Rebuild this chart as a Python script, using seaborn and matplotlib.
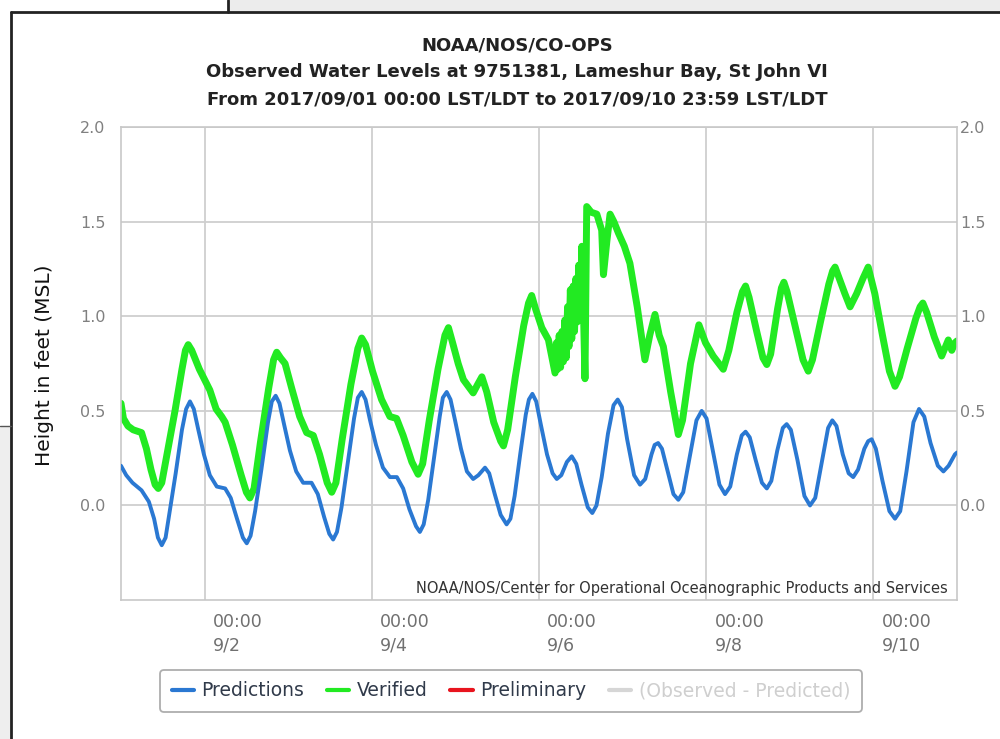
import matplotlib
matplotlib.use("Agg")
import matplotlib.pyplot as plt
import matplotlib.transforms as mtransforms
from matplotlib.lines import Line2D
from matplotlib.patches import Rectangle
import pandas as pd
import seaborn as sns

# hours since 2017/09/01 00:00, heights in feet (MSL)
pred_hours = [0, 1.5, 3.3, 5.9, 8.0, 9.5, 10.6, 11.7, 12.8, 14.0, 15.7, 17.5, 18.7, 19.8,
              20.9, 22.2, 23.8, 25.5, 27.5, 29.9, 31.5, 33.3, 35.0, 36.1, 37.2, 38.5,
              40.3, 42.2, 43.3, 44.4, 45.5, 46.8, 48.5, 50.3, 52.3, 54.7, 56.5, 58.3,
              59.8, 60.9, 62.0, 63.3, 65.0, 66.9, 68.0, 69.1, 70.2, 71.5, 73.2, 75.2,
              77.2, 79.2, 81.0, 82.8, 84.7, 85.8, 86.9, 88.2, 89.7, 91.5, 92.4, 93.5,
              94.6, 95.9, 97.6, 99.3, 101.1, 102.6, 104.5, 105.7, 107.3, 109.0, 110.7,
              111.8, 113.0, 114.6, 116.2, 117.1, 118.1, 119.2, 120.5, 122.3, 123.9,
              125.1, 126.4, 128.0, 129.4, 130.7, 132.2, 134.0, 135.3, 136.5, 138.0,
              139.8, 141.4, 142.6, 143.8, 145.3, 147.3, 149.0, 150.5, 152.3, 153.2,
              154.2, 155.3, 156.8, 158.6, 160.0, 161.4, 163.2, 165.2, 166.7, 168.1,
              169.8, 171.8, 173.4, 174.9, 176.8, 178.2, 179.3, 180.5, 182.2, 184.0,
              185.4, 186.7, 188.4, 190.0, 191.1, 192.3, 194.2, 196.2, 197.8, 199.3,
              201.1, 203.0, 204.2, 205.4, 207.2, 208.9, 210.2, 211.6, 213.4, 214.5,
              215.5, 216.7, 218.6, 220.6, 222.2, 223.7, 225.5, 227.5, 229.1, 230.6,
              232.4, 234.5, 236.1, 237.6, 239.4, 240.0]
pred_vals = [0.21, 0.16, 0.12, 0.08, 0.02, -0.07, -0.17, -0.21, -0.17, -0.03, 0.17, 0.40, 0.51, 0.55,
             0.51, 0.40, 0.27, 0.16, 0.10, 0.09, 0.04, -0.07, -0.17, -0.20, -0.16, -0.03,
             0.19, 0.44, 0.55, 0.58, 0.54, 0.43, 0.29, 0.18, 0.12, 0.12, 0.06, -0.06,
             -0.15, -0.18, -0.14, -0.01, 0.21, 0.46, 0.57, 0.60, 0.56, 0.45, 0.32, 0.20,
             0.15, 0.15, 0.09, -0.02, -0.11, -0.14, -0.10, 0.03, 0.23, 0.47, 0.57, 0.60,
             0.56, 0.45, 0.30, 0.18, 0.14, 0.16, 0.20, 0.17, 0.06, -0.05, -0.10,
             -0.07, 0.05, 0.27, 0.48, 0.56, 0.59, 0.55, 0.43, 0.27, 0.17,
             0.14, 0.16, 0.23, 0.26, 0.22, 0.11, -0.01, -0.04, 0.00, 0.15,
             0.38, 0.53, 0.56, 0.52, 0.35, 0.16, 0.11, 0.14, 0.27, 0.32,
             0.33, 0.30, 0.19, 0.06, 0.03, 0.07, 0.25, 0.45, 0.50, 0.46,
             0.30, 0.11, 0.06, 0.10, 0.27, 0.37, 0.39, 0.36, 0.24, 0.12,
             0.09, 0.13, 0.29, 0.41, 0.43, 0.40, 0.24, 0.05, 0.00, 0.04,
             0.22, 0.41, 0.45, 0.42, 0.27, 0.17, 0.15, 0.19, 0.30, 0.34,
             0.35, 0.30, 0.13, -0.03, -0.07, -0.03, 0.18, 0.44, 0.51, 0.47,
             0.33, 0.21, 0.18, 0.21, 0.27, 0.28]

ver_hours = [0, 0.7, 2.0, 3.5, 5.9, 7.3, 8.6, 9.8, 10.7, 11.7, 13.3, 15.5, 17.5, 18.5, 19.3,
             20.3, 22.5, 25.5, 27.3, 28.9, 29.9, 32.0, 34.5, 36.0, 37.0, 38.2, 40.0, 42.4,
             43.8, 44.7, 45.8, 47.1, 49.0, 51.3, 53.3, 55.2, 57.0, 59.2, 60.5, 61.7, 63.5,
             66.0, 68.0, 69.1, 70.2, 72.2, 74.8, 77.2, 79.1, 81.0, 83.5, 85.3, 86.6, 88.5,
             91.0, 93.0, 94.0, 95.2, 96.8, 98.3, 101.1, 102.4, 103.6, 105.0, 107.0, 109.0,
             109.8, 111.0, 113.2, 115.6, 117.0, 117.9, 119.0, 120.8, 122.7, 124.6,
             125.0, 125.4, 125.8, 126.2, 126.6, 127.0, 127.4, 127.8, 128.2, 128.6, 129.0,
             129.4, 129.8, 130.2, 130.6, 131.0, 131.4, 131.8, 132.3, 132.7, 133.2, 133.7,
             135.0, 136.6, 138.0, 138.5, 139.5, 140.4, 141.5, 142.8, 144.5, 146.1, 148.2,
             150.4, 151.8, 153.3, 154.5, 155.7, 157.8, 160.0, 161.2, 163.5, 165.9, 167.8,
             170.0, 172.9, 174.5, 176.8, 178.4, 179.3, 180.3, 182.5, 184.3, 185.4, 186.5,
             188.5, 189.6, 190.3, 191.2, 193.5, 195.8, 197.3, 198.5, 200.8, 203.2, 204.3,
             205.0, 206.2, 207.8, 209.3, 211.2, 213.0, 214.5, 216.4, 218.6, 220.6, 222.2,
             223.5, 225.7, 228.2, 229.4, 230.2, 231.3, 233.5, 235.6, 237.5, 238.5, 239.4,
             240.0]
ver_vals = [0.54, 0.46, 0.42, 0.40, 0.385, 0.30, 0.19, 0.11, 0.09, 0.12, 0.28, 0.50, 0.72, 0.82, 0.85,
            0.82, 0.72, 0.61, 0.51, 0.47, 0.44, 0.32, 0.16, 0.07, 0.04, 0.09, 0.33, 0.62,
            0.77, 0.81, 0.78, 0.75, 0.62, 0.47, 0.385, 0.37, 0.27, 0.12, 0.07, 0.12, 0.35,
            0.64, 0.83, 0.885, 0.85, 0.71, 0.56, 0.47, 0.46, 0.37, 0.23, 0.165, 0.22, 0.45,
            0.72, 0.90, 0.94, 0.86, 0.75, 0.665, 0.595, 0.64, 0.68, 0.60, 0.44, 0.34,
            0.315, 0.40, 0.68, 0.95, 1.07, 1.11, 1.04, 0.94, 0.876, 0.70,
            0.86, 0.72, 0.90, 0.73, 0.92, 0.76, 0.98, 0.78, 1.05, 0.84, 1.14,
            0.88, 1.16, 0.92, 1.20, 0.97, 1.27, 1.04, 1.37, 1.08, 0.67, 1.58,
            1.55, 1.54, 1.455, 1.22, 1.40, 1.54, 1.50, 1.44, 1.37, 1.28, 1.05,
            0.77, 0.90, 1.01, 0.90, 0.84, 0.60, 0.375, 0.45, 0.75, 0.955, 0.86,
            0.79, 0.72, 0.82, 1.02, 1.13, 1.16, 1.10, 0.92, 0.78, 0.745, 0.80,
            1.04, 1.15, 1.18, 1.13, 0.95, 0.77, 0.71, 0.77, 0.97, 1.17, 1.24,
            1.26, 1.20, 1.12, 1.05, 1.12, 1.20, 1.26, 1.12, 0.90, 0.71, 0.63,
            0.68, 0.83, 0.99, 1.05, 1.07, 1.02, 0.89, 0.79, 0.875, 0.82, 0.86,
            0.87]

tick_hours = [24, 72, 120, 168, 216]
tick_labels = ["00:00\n9/2", "00:00\n9/4", "00:00\n9/6", "00:00\n9/8", "00:00\n9/10"]
y_ticks = [0.0, 0.5, 1.0, 1.5, 2.0]

title_lines = ["NOAA/NOS/CO-OPS",
               "Observed Water Levels at 9751381, Lameshur Bay, St John VI",
               "From 2017/09/01 00:00 LST/LDT to 2017/09/10 23:59 LST/LDT"]

pred_df = pd.DataFrame({"hours": pred_hours, "height": pred_vals})
ver_df = pd.DataFrame({"hours": ver_hours, "height": ver_vals})

sns.set_style("white")
plt.rcParams['font.family'] = ['DejaVu Sans']

blue = "#2a78d2"
green = "#22ea22"
red = "#e8141e"
grid_c = "#cfcfcf"

fig = plt.figure(figsize=(10, 7.39), dpi=100)
ax = fig.add_axes([0.121, 0.188, 0.836, 0.640])

# bits of the screenshot around the chart window
fig.add_artist(Rectangle((0, 0), 0.011, 0.424, transform=fig.transFigure,
                         facecolor="#eeeeee", edgecolor="none", zorder=-5))
fig.add_artist(Rectangle((0.228, 0.984), 0.772, 0.016, transform=fig.transFigure,
                         facecolor="#ececec", edgecolor="none", zorder=-5))
fig.add_artist(Line2D([0.011, 0.011], [0, 0.984], transform=fig.transFigure,
                      color="#222222", lw=2))
fig.add_artist(Line2D([0.011, 1.0], [0.984, 0.984], transform=fig.transFigure,
                      color="#222222", lw=2))
fig.add_artist(Line2D([0.228, 0.228], [0.984, 1.0], transform=fig.transFigure,
                      color="#222222", lw=2))
fig.add_artist(Line2D([0, 0.011], [0.424, 0.424], transform=fig.transFigure,
                      color="#555555", lw=1))

sns.lineplot(data=pred_df, x="hours", y="height", ax=ax, color=blue, lw=2.8,
             label="Predictions", zorder=3)
sns.lineplot(data=ver_df, x="hours", y="height", ax=ax, color=green, lw=5,
             label="Verified", zorder=2)
ax.plot([], [], color=red, lw=3, label="Preliminary")
ax.plot([], [], color="#d6d6d6", lw=3, label="(Observed - Predicted)")

ax.set_xlim(0, 240)
ax.set_ylim(-0.5, 2.0)
ax.set_yticks(y_ticks)
ax.set_yticklabels([f"{v:.1f}" for v in y_ticks])
ax.set_xticks(tick_hours)
ax.set_xticklabels(tick_labels, linespacing=1.45)
ax.grid(True, color=grid_c, lw=1.3)
for s in ax.spines.values():
    s.set_color("#c8c8c8")
    s.set_linewidth(1.2)

ax.tick_params(axis="x", length=11, width=1.2, color=grid_c, pad=-2,
               labelsize=12.5, labelcolor="#707070")
ax.tick_params(axis="y", length=0, pad=11, labelsize=11.5, labelcolor="#808080",
               labelright=True, right=False)
offset = mtransforms.ScaledTranslation(6 / 72, 0, fig.dpi_scale_trans)
for lab in ax.get_xticklabels():
    lab.set_horizontalalignment("left")
    lab.set_transform(lab.get_transform() + offset)
shift_r = mtransforms.ScaledTranslation(-9 / 72, 0, fig.dpi_scale_trans)
for tk in ax.yaxis.get_major_ticks():
    tk.label2.set_transform(tk.label2.get_transform() + shift_r)

ax.set_xlabel("")
ax.set_ylabel("")
fig.text(0.045, 0.506, "Height in feet (MSL)", rotation=90, ha="center", va="center",
         fontsize=14.5, color="#111111")

ax.text(0.989, 0.024, "NOAA/NOS/Center for Operational Oceanographic Products and Services",
        transform=ax.transAxes, ha="right", va="center", fontsize=10.5,
        color="#333333")

for line, yy in zip(title_lines, [0.939, 0.9026, 0.866]):
    fig.text(0.517, yy, line, ha="center", va="center", fontsize=13,
             fontweight="bold", color="#222222")

leg = ax.legend(loc="center", bbox_to_anchor=(0.511, 0.065),
                bbox_transform=fig.transFigure, ncol=4, fontsize=13.5,
                frameon=True, fancybox=True, edgecolor="#9a9a9a",
                handlelength=1.2, handletextpad=0.4, columnspacing=1.2,
                borderpad=0.6)
leg.get_frame().set_linewidth(1.3)
for hl in leg.get_lines():
    hl.set_linewidth(3)
for txt in leg.get_texts()[:3]:
    txt.set_color("#303a4a")
leg.get_texts()[3].set_color("#cfcfcf")

fig.savefig("out.png", dpi=100)
